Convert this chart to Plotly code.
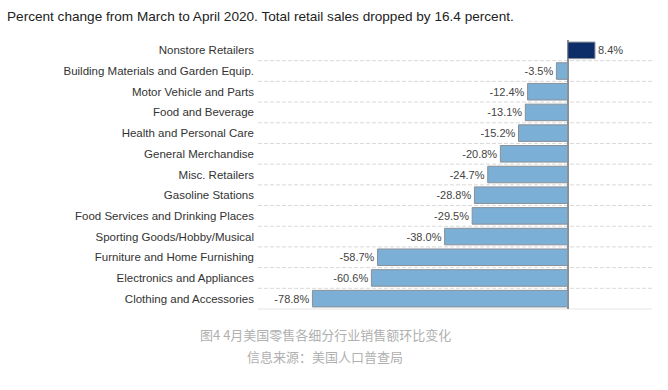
import plotly.graph_objects as go

categories = [
    "Nonstore Retailers",
    "Building Materials and Garden Equip.",
    "Motor Vehicle and Parts",
    "Food and Beverage",
    "Health and Personal Care",
    "General Merchandise",
    "Misc. Retailers",
    "Gasoline Stations",
    "Food Services and Drinking Places",
    "Sporting Goods/Hobby/Musical",
    "Furniture and Home Furnishing",
    "Electronics and Appliances",
    "Clothing and Accessories",
]
values = [8.4, -3.5, -12.4, -13.1, -15.2, -20.8, -24.7, -28.8, -29.5, -38.0, -58.7, -60.6, -78.8]
title_text = "Percent change from March to April 2020. Total retail sales dropped by 16.4 percent."
caption_1 = "图4 4月美国零售各细分行业销售额环比变化"
caption_2 = "信息来源：美国人口普查局"

colors = ["#0c2d68" if v > 0 else "#7bafd5" for v in values]
labels = [f"{v:.1f}%" for v in values]

fig = go.Figure()
fig.add_trace(go.Bar(
    x=values,
    y=categories,
    orientation="h",
    marker=dict(color=colors, line=dict(color="#8a8f96", width=1)),
    text=labels,
    textposition="outside",
    textfont=dict(size=11, color="#444444", family="Liberation Sans, Arial, sans-serif"),
    cliponaxis=False,
    hoverinfo="skip",
))

n = len(categories)
shapes = []
for i in range(n - 1):
    shapes.append(dict(type="line", xref="paper", yref="y", x0=0, x1=1,
                       y0=i + 0.5, y1=i + 0.5,
                       line=dict(color="#d9d9d9", width=1, dash="4px,2px"), layer="below"))
shapes.append(dict(type="line", xref="paper", yref="paper", x0=0, x1=1, y0=0, y1=0,
                   line=dict(color="#eeeeee", width=1.5), layer="below"))

PLOT_L, PLOT_R, PLOT_T, PLOT_B = 258, 652, 40, 309
W, H = 668, 390

fig.update_layout(
    width=W, height=H,
    margin=dict(l=PLOT_L, r=W - PLOT_R, t=PLOT_T, b=H - PLOT_B),
    paper_bgcolor="white", plot_bgcolor="white",
    bargap=0.2,
    showlegend=False,
    font=dict(family="Liberation Sans, Arial, sans-serif", color="#333333"),
    shapes=shapes,
    xaxis=dict(range=[-95.6, 26.0], showgrid=False, showticklabels=False, ticks="",
               zeroline=True, zerolinecolor="#8a8f96", zerolinewidth=1.5, fixedrange=True),
    yaxis=dict(autorange=False, range=[n - 0.5, -0.5], showgrid=False, ticks="",
               tickfont=dict(size=11.5, color="#333333"), ticklabelstandoff=3,
               categoryorder="array", categoryarray=categories),
    annotations=[
        dict(text=title_text, xref="paper", yref="paper", x=0, y=1, xanchor="left", yanchor="middle",
             font=dict(size=13.6, color="#222222"), showarrow=False,
             xshift=5 - PLOT_L, yshift=PLOT_T - 16),
        dict(text=caption_1, xref="paper", yref="paper", x=0.5, y=0, xanchor="center", yanchor="middle",
             font=dict(size=13, color="#b0b0b0", family="Noto Sans CJK SC, sans-serif"), showarrow=False,
             xshift=325 - (PLOT_L + PLOT_R) / 2, yshift=-(334 - PLOT_B)),
        dict(text=caption_2, xref="paper", yref="paper", x=0.5, y=0, xanchor="center", yanchor="middle",
             font=dict(size=13, color="#b0b0b0", family="Noto Sans CJK SC, sans-serif"), showarrow=False,
             xshift=325 - (PLOT_L + PLOT_R) / 2, yshift=-(356 - PLOT_B)),
    ],
)

fig.write_html("out.html", config={"displayModeBar": False},
               post_script="document.body.style.margin='0';")
